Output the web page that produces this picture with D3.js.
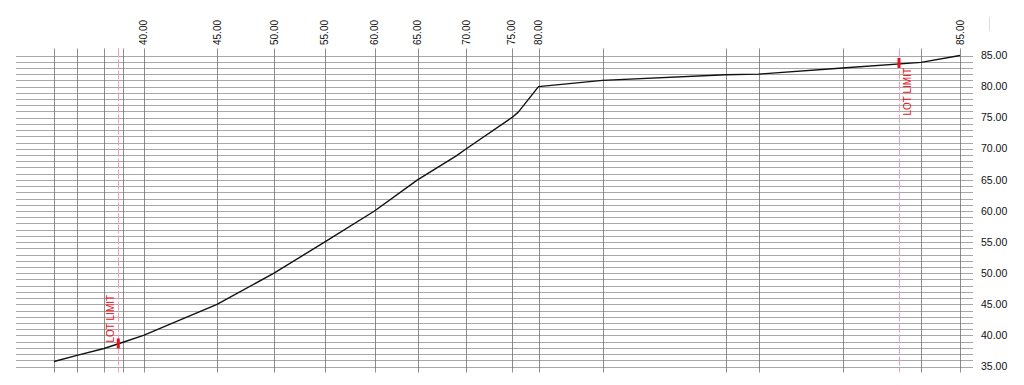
<!DOCTYPE html>
<meta charset="utf-8">
<style>
body { margin: 0; background: #fff; }
text { font-family: "Liberation Sans", Arial, sans-serif; }
</style>
<svg width="1024" height="385"></svg>
<script src="https://cdn.jsdelivr.net/npm/d3@7"></script>
<script>

// profile: station (m) and ground elevation
var stations = [3.8, 6.1, 8.8, 10.7, 12.75, 20.1, 25.8, 30.85, 35.85, 40.15, 44.07, 45.03, 49.57, 50.23, 52.25, 58.65, 70.95, 74.25, 82.65, 90.5, 94.4];
var elevations = [35.8, 36.8, 37.9, 38.9, 40.0, 45.0, 50.0, 55.0, 60.0, 65.0, 68.9, 70.0, 75.0, 75.9, 80.0, 81.0, 81.9, 82.0, 83.0, 83.9, 85.0];

// vertical grid lines and the ones that carry a label on top
var gridStations = [3.8, 6.1, 8.8, 10.7, 12.75, 20.1, 25.8, 30.85, 35.85, 40.15, 45.03, 49.57, 52.25, 58.65, 70.95, 74.25, 82.65, 90.5, 94.4];
var labelStations = [12.75, 20.1, 25.8, 30.85, 35.85, 40.15, 45.03, 49.57, 52.25, 94.4];
var labelTexts = ["40.00", "45.00", "50.00", "55.00", "60.00", "65.00", "70.00", "75.00", "80.00", "85.00"];

// elevation ticks on the right
var elevTicks = [35, 40, 45, 50, 55, 60, 65, 70, 75, 80, 85];

// lot limits
var lotStations = [10.23, 88.3];
var lotElevs = [38.7, 83.8];

var svg = d3.select("svg");

var x = d3.scaleLinear().domain([0, 95.7]).range([16, 973]),
    y = d3.scaleLinear().domain([35, 85]).range([366.5, 55.5]);

// horizontal grid, every 1.0
svg.append("g")
  .selectAll("line")
  .data(d3.range(35, 86))
  .enter().append("line")
    .attr("x1", x(0))
    .attr("x2", x(95.7))
    .attr("y1", function(d) { return Math.round(y(d)) + 0.5; })
    .attr("y2", function(d) { return Math.round(y(d)) + 0.5; })
    .attr("stroke", "#a8a8a8")
    .attr("stroke-width", 1);

// vertical grid
svg.append("g")
  .selectAll("line")
  .data(gridStations)
  .enter().append("line")
    .attr("x1", function(d) { return Math.round(x(d)) + 0.5; })
    .attr("x2", function(d) { return Math.round(x(d)) + 0.5; })
    .attr("y1", y(85) - 7)
    .attr("y2", y(35) + 6)
    .attr("stroke", "#707070")
    .attr("stroke-width", 0.8);

// lot limit dashed lines
svg.append("g")
  .selectAll("line")
  .data(lotStations)
  .enter().append("line")
    .attr("x1", function(d) { return Math.round(x(d)) + 0.5; })
    .attr("x2", function(d) { return Math.round(x(d)) + 0.5; })
    .attr("y1", y(85) - 7)
    .attr("y2", y(35) + 6)
    .attr("stroke", "#f0a0b0")
    .attr("stroke-width", 1)
    .attr("stroke-dasharray", "9,2");

// profile line
var line = d3.line()
    .x(function(d, i) { return x(stations[i]); })
    .y(function(d) { return y(d); });

svg.append("path")
    .datum(elevations)
    .attr("fill", "none")
    .attr("stroke", "#111")
    .attr("stroke-width", 1.4)
    .attr("stroke-linejoin", "round")
    .attr("d", line);

// lot limit markers
svg.append("g")
  .selectAll("line")
  .data(lotStations)
  .enter().append("line")
    .attr("x1", function(d) { return x(d); })
    .attr("x2", function(d) { return x(d); })
    .attr("y1", function(d, i) { return y(lotElevs[i]) - 5; })
    .attr("y2", function(d, i) { return y(lotElevs[i]) + 5; })
    .attr("stroke", "#e8101c")
    .attr("stroke-width", 3);

svg.append("g")
  .selectAll("text")
  .data(lotStations)
  .enter().append("text")
    .attr("transform", function(d, i) {
      return i === 0
        ? "translate(" + (x(d) - 4.5) + "," + (y(lotElevs[i]) - 1) + ")rotate(-90)"
        : "translate(" + (x(d) + 12) + "," + (y(lotElevs[i]) + 5) + ")rotate(-90)";
    })
    .attr("text-anchor", function(d, i) { return i === 0 ? "start" : "end"; })
    .attr("fill", "#e8101c")
    .style("font-size", "10px")
    .text("LOT LIMIT");

// top labels
svg.append("g")
  .selectAll("text")
  .data(labelStations)
  .enter().append("text")
    .attr("transform", function(d) { return "translate(" + x(d) + ",45)rotate(-90)"; })
    .attr("dy", "0.35em")
    .attr("text-anchor", "start")
    .attr("fill", "#111")
    .style("font-size", "10px")
    .text(function(d, i) { return labelTexts[i]; });

// right axis labels
svg.append("g")
  .selectAll("text")
  .data(elevTicks)
  .enter().append("text")
    .attr("x", 981)
    .attr("y", function(d) { return y(d); })
    .attr("dy", "0.35em")
    .attr("fill", "#111")
    .style("font-size", "10.5px")
    .text(function(d) { return d3.format(".2f")(d); });

// small mark at top right
svg.append("line")
    .attr("x1", 989.5).attr("x2", 989.5)
    .attr("y1", 17).attr("y2", 31)
    .attr("stroke", "#ddd");

</script>
